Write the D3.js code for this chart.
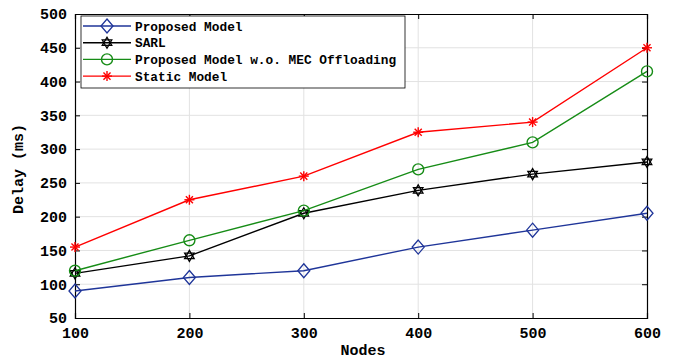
<!DOCTYPE html>
<html><head><meta charset="utf-8">
<script src="https://cdn.jsdelivr.net/npm/d3@7"></script>
<style>body{margin:0;background:#fff}svg text{font-family:"Liberation Mono","DejaVu Sans Mono",monospace;font-weight:bold}</style>
</head><body>
<svg id="c" width="673" height="360"></svg>
<script>
const nodes = [100, 200, 300, 400, 500, 600];
const proposed = [90, 110, 120, 155, 180, 205];
const sarl = [116, 142, 205, 239, 263, 281];
const woMec = [120, 165, 209, 270, 310, 415];
const staticModel = [155, 225, 260, 325, 340, 450];
const seriesNames = ["Proposed Model", "SARL", "Proposed Model w.o. MEC Offloading", "Static Model"];
const yTicks = [50,100,150,200,250,300,350,400,450,500];

const series = [
  {name: seriesNames[0], values: proposed, color: "#1f3599", marker: "diamond"},
  {name: seriesNames[1], values: sarl, color: "#000000", marker: "hexagram"},
  {name: seriesNames[2], values: woMec, color: "#168c16", marker: "circle"},
  {name: seriesNames[3], values: staticModel, color: "#ff0000", marker: "asterisk"}
];

const svg = d3.select("#c");
const L = 75, R = 647, T = 14, B = 318;
const x = d3.scaleLinear().domain([100, 600]).range([L, R]);
const y = d3.scaleLinear().domain([50, 500]).range([B, T]);

// grid
svg.append("g").selectAll("line").data(nodes.slice(1, -1)).join("line")
  .attr("x1", d => x(d)).attr("x2", d => x(d)).attr("y1", T).attr("y2", B)
  .attr("stroke", "#e2e2e2").attr("stroke-width", 1);
svg.append("g").selectAll("line").data(yTicks.slice(1, -1)).join("line")
  .attr("x1", L).attr("x2", R).attr("y1", d => y(d)).attr("y2", d => y(d))
  .attr("stroke", "#e2e2e2").attr("stroke-width", 1);

// axes
const xa = svg.append("g").attr("transform", `translate(0,${B})`)
  .call(d3.axisBottom(x).tickValues(nodes).tickSize(-5).tickPadding(9));
const ya = svg.append("g").attr("transform", `translate(${L},0)`)
  .call(d3.axisLeft(y).tickValues(yTicks).tickSize(-5).tickPadding(8));
const xt = svg.append("g").attr("transform", `translate(0,${T})`)
  .call(d3.axisTop(x).tickValues(nodes).tickSize(-5).tickFormat(""));
const yr = svg.append("g").attr("transform", `translate(${R},0)`)
  .call(d3.axisRight(y).tickValues(yTicks).tickSize(-5).tickFormat(""));
[xa, ya, xt, yr].forEach(g => {
  g.select(".domain").attr("stroke", "#000").attr("stroke-width", 1.2);
  g.selectAll(".tick line").attr("stroke", "#000").attr("stroke-width", 1);
  g.selectAll("text").attr("font-size", 15).attr("fill", "#000")
    .style("font-family", '"Liberation Mono",monospace').style("font-weight", "bold");
});

svg.append("text").attr("x", (L + R) / 2 + 2).attr("y", 355).attr("text-anchor", "middle")
  .attr("font-size", 15).text("Nodes");
svg.append("text").attr("transform", `translate(23,${(T + B) / 2 + 3}) rotate(-90)`)
  .attr("text-anchor", "middle").attr("font-size", 15).text("Delay (ms)");

function drawMarker(g, type, cx, cy, color) {
  if (type === "diamond") {
    g.append("path").attr("d", `M${cx},${cy-7}L${cx+6},${cy}L${cx},${cy+7}L${cx-6},${cy}Z`)
      .attr("fill", "none").attr("stroke", color).attr("stroke-width", 1.3);
  } else if (type === "circle") {
    g.append("circle").attr("cx", cx).attr("cy", cy).attr("r", 5.5)
      .attr("fill", "none").attr("stroke", color).attr("stroke-width", 1.4);
  } else if (type === "hexagram") {
    const r = 5.5;
    const tri = a => d3.range(3).map(i => {
      const ang = a + i * 2 * Math.PI / 3;
      return [cx + r * Math.sin(ang), cy - r * Math.cos(ang)];
    });
    [0, Math.PI].forEach(a => {
      g.append("path").attr("d", "M" + tri(a).join("L") + "Z")
        .attr("fill", "none").attr("stroke", color).attr("stroke-width", 1.3);
    });
  } else if (type === "asterisk") {
    const r = 5;
    [0, 45, 90, 135].forEach(a => {
      const rad = a * Math.PI / 180;
      g.append("line").attr("x1", cx - r * Math.cos(rad)).attr("y1", cy - r * Math.sin(rad))
        .attr("x2", cx + r * Math.cos(rad)).attr("y2", cy + r * Math.sin(rad))
        .attr("stroke", color).attr("stroke-width", 1.4);
    });
  }
}

const line = d3.line().x((d, i) => x(nodes[i])).y(d => y(d));
series.forEach(s => {
  const g = svg.append("g");
  g.append("path").attr("d", line(s.values)).attr("fill", "none")
    .attr("stroke", s.color).attr("stroke-width", 1.4);
  s.values.forEach((v, i) => drawMarker(g, s.marker, x(nodes[i]), y(v), s.color));
});

// legend
const lg = svg.append("g");
lg.append("rect").attr("x", 81).attr("y", 16).attr("width", 324).attr("height", 72)
  .attr("fill", "#fff").attr("stroke", "#000").attr("stroke-width", 0.8);
series.forEach((s, i) => {
  const yy = 26 + i * 16.7;
  lg.append("line").attr("x1", 83).attr("x2", 131).attr("y1", yy).attr("y2", yy)
    .attr("stroke", s.color).attr("stroke-width", 1.4);
  drawMarker(lg, s.marker, 107, yy, s.color);
  lg.append("text").attr("x", 135).attr("y", yy + 4.5).attr("font-size", 12.8).attr("fill", "#000").text(s.name);
});
</script>
</body></html>
